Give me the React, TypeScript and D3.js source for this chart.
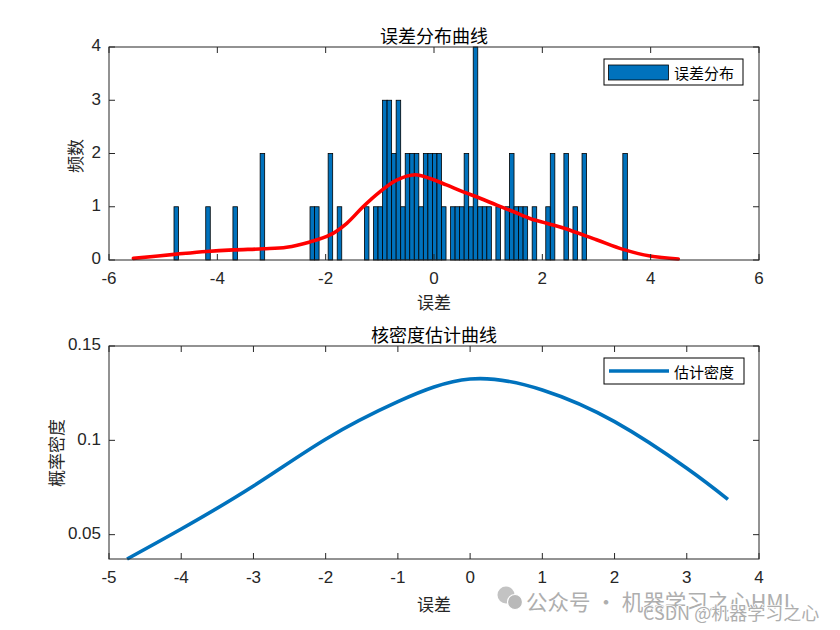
import React from 'react';
import * as d3 from 'd3';

// ---------- DATA ----------
const binStart = -4.8;
const binWidth = 0.0837;
const histCounts = [
  1, 0, 0, 0, 0, 0, 0, 1, 0, 0,
  0, 0, 0, 1, 0, 0, 0, 0, 0, 2,
  0, 0, 0, 0, 0, 0, 0, 0, 0, 0,
  1, 1, 0, 0, 2, 0, 1, 0, 0, 0,
  0, 0, 1, 0, 1, 1, 3, 3, 2, 3,
  1, 2, 2, 2, 1, 2, 2, 2, 2, 1,
  0, 1, 1, 1, 2, 1, 4, 1, 1, 1,
  0, 1, 0, 1, 2, 1, 1, 1, 0, 1,
  0, 0, 1, 2, 0, 0, 2, 0, 1, 0,
  2, 0, 0, 0, 0, 0, 0, 0, 0, 2,
];

const fitX = [-5.55, -4.75, -4.2, -3.7, -3.15, -2.72, -2.29, -1.92, -1.61, -1.31, -1.0, -0.69, -0.35, -0.07, 0.23, 0.54, 0.85, 1.16, 1.46, 1.77, 2.08, 2.39, 3.0, 3.49, 3.99, 4.51];
const fitY = [0.03, 0.11, 0.16, 0.19, 0.21, 0.24, 0.34, 0.47, 0.69, 1.0, 1.28, 1.5, 1.6, 1.53, 1.41, 1.28, 1.16, 1.03, 0.91, 0.78, 0.69, 0.6, 0.38, 0.2, 0.075, 0.02];

const kdeX = [-4.75, -4.0, -3.0, -2.0, -1.0, 0.0, 1.0, 2.0, 3.0, 3.57];
const kdeY = [0.0371, 0.0530, 0.0758, 0.1006, 0.1205, 0.1325, 0.1267, 0.1099, 0.0852, 0.0687];

const topXTicks = [-6, -4, -2, 0, 2, 4, 6];
const topYTicks = [0, 1, 2, 3, 4];
const botXTicks = [-5, -4, -3, -2, -1, 0, 1, 2, 3, 4];
const botYTicks = [0.05, 0.1, 0.15];
const botYLabels = ['0.05', '0.1', '0.15'];

// ---------- STYLE ----------
const BLUE = '#0072BD';
const AX = '#262626';
const NUM_FONT = '"Liberation Sans", Arial, Helvetica, sans-serif';
const CJK_FONT = '"Noto Sans CJK SC", "Noto Sans", sans-serif';

const L = 109, R = 759;
const T1 = 47, B1 = 260;
const T2 = 346, B2 = 559;
const TICK = 6;

function Frame({ x, y, xTicks, yTicks, yLabels, top, bottom }: any) {
  return (
    <g>
      <rect x={L} y={top} width={R - L} height={bottom - top} fill="none" stroke={AX} strokeWidth={1} />
      {xTicks.map((t: number) => (
        <g key={'x' + t}>
          <line x1={x(t)} x2={x(t)} y1={bottom} y2={bottom - TICK} stroke={AX} />
          <line x1={x(t)} x2={x(t)} y1={top} y2={top + TICK} stroke={AX} />
          <text x={x(t)} y={bottom + 20} textAnchor="middle" dominantBaseline="middle"
            fontFamily={NUM_FONT} fontSize={17} fill={AX}>{String(t)}</text>
        </g>
      ))}
      {yTicks.map((t: number, i: number) => (
        <g key={'y' + t}>
          <line x1={L} x2={L + TICK} y1={y(t)} y2={y(t)} stroke={AX} />
          <line x1={R} x2={R - TICK} y1={y(t)} y2={y(t)} stroke={AX} />
          <text x={L - 8} y={y(t)} textAnchor="end" dominantBaseline="middle"
            fontFamily={NUM_FONT} fontSize={17} fill={AX}>{yLabels ? yLabels[i] : String(t)}</text>
        </g>
      ))}
    </g>
  );
}

export default function App() {
  const x1 = d3.scaleLinear().domain([-6, 6]).range([L, R]);
  const y1 = d3.scaleLinear().domain([0, 4]).range([B1, T1]);
  const x2 = d3.scaleLinear().domain([-5, 4]).range([L, R]);
  const y2 = d3.scaleLinear().domain([0.0371, 0.15]).range([B2, T2]);

  const fitLine = d3.line<number>()
    .x((_, i) => x1(fitX[i]))
    .y((d) => y1(d))
    .curve(d3.curveCatmullRom.alpha(0.5));
  const kdeLine = d3.line<number>()
    .x((_, i) => x2(kdeX[i]))
    .y((d) => y2(d))
    .curve(d3.curveNatural);

  return (
    <svg width={840} height={630} style={{ position: 'absolute', left: 0, top: 0, background: '#fff' }}
      xmlns="http://www.w3.org/2000/svg">
      <rect x={0} y={0} width={840} height={630} fill="#fff" />

      {/* ----- top chart ----- */}
      <g>
        {histCounts.map((c, i) => c > 0 ? (
          <rect key={i}
            x={x1(binStart + i * binWidth)}
            y={y1(c)}
            width={x1(binStart + (i + 1) * binWidth) - x1(binStart + i * binWidth)}
            height={y1(0) - y1(c)}
            fill={BLUE} stroke="#000" strokeWidth={0.8} />
        ) : null)}
        <path d={fitLine(fitY) || ''} fill="none" stroke="#f00" strokeWidth={3.6} strokeLinejoin="round" strokeLinecap="round" />
        <Frame x={x1} y={y1} xTicks={topXTicks} yTicks={topYTicks} top={T1} bottom={B1} />
        <text x={434} y={35} textAnchor="middle" dominantBaseline="central" fontFamily={CJK_FONT} fontSize={18} fill="#000">误差分布曲线</text>
        <text x={434} y={301} textAnchor="middle" dominantBaseline="central" fontFamily={CJK_FONT} fontSize={17} fill={AX}>误差</text>
        <text transform="translate(74,156) rotate(-90)" textAnchor="middle" dominantBaseline="central" fontFamily={CJK_FONT} fontSize={17} fill={AX}>频数</text>
        {/* legend */}
        <rect x={604} y={59} width={139} height={26} fill="#fff" stroke="#000" strokeWidth={1} />
        <rect x={608.5} y={65} width={60} height={15} fill={BLUE} stroke="#000" strokeWidth={0.8} />
        <text x={674} y={72.5} dominantBaseline="central" fontFamily={CJK_FONT} fontSize={15} fill="#000">误差分布</text>
      </g>

      {/* ----- bottom chart ----- */}
      <g>
        <path d={kdeLine(kdeY) || ''} fill="none" stroke={BLUE} strokeWidth={3.6} strokeLinejoin="round" />
        <Frame x={x2} y={y2} xTicks={botXTicks} yTicks={botYTicks} yLabels={botYLabels} top={T2} bottom={B2} />
        <text x={434} y={334} textAnchor="middle" dominantBaseline="central" fontFamily={CJK_FONT} fontSize={18} fill="#000">核密度估计曲线</text>
        <text x={434} y={603} textAnchor="middle" dominantBaseline="central" fontFamily={CJK_FONT} fontSize={17} fill={AX}>误差</text>
        <text transform="translate(55,453) rotate(-90)" textAnchor="middle" dominantBaseline="central" fontFamily={CJK_FONT} fontSize={17} fill={AX}>概率密度</text>
        {/* legend */}
        <rect x={604} y={358} width={140} height={26} fill="#fff" stroke="#000" strokeWidth={1} />
        <line x1={609} x2={669} y1={371} y2={371} stroke={BLUE} strokeWidth={3.6} />
        <text x={674} y={371} dominantBaseline="central" fontFamily={CJK_FONT} fontSize={15} fill="#000">估计密度</text>
      </g>

      {/* ----- watermark ----- */}
      <g opacity={0.8}>
        <circle cx={506} cy={595} r={8.5} fill="#b5b5b5" />
        <circle cx={515} cy={602} r={7.5} fill="#a8a8a8" stroke="#fff" strokeWidth={1.2} />
        <text x={526} y={600} dominantBaseline="central" fontFamily={CJK_FONT} fontSize={21.5} fill="#9a9a9a"
          stroke="#fff" strokeWidth={2} paintOrder="stroke">公众号 · 机器学习之心HML</text>
        <text x={643} y={612} dominantBaseline="central" fontFamily={CJK_FONT} fontSize={18} fill="#9a9a9a"
          stroke="#fff" strokeWidth={1.5} paintOrder="stroke">CSDN @机器学习之心</text>
      </g>
    </svg>
  );
}
